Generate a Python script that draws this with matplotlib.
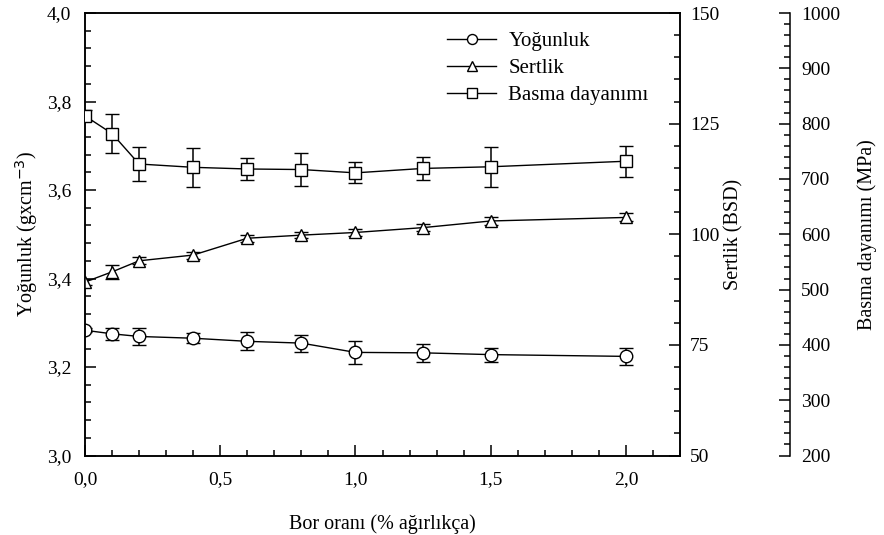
import numpy as np
import matplotlib
matplotlib.use("Agg")
import matplotlib.pyplot as plt
from matplotlib.ticker import MultipleLocator, FuncFormatter

plt.rcParams['font.family'] = ['Liberation Serif', 'DejaVu Serif']
plt.rcParams['font.size'] = 11

# bor orani (% agirlikca)
bor = [0.0, 0.1, 0.2, 0.4, 0.6, 0.8, 1.0, 1.25, 1.5, 2.0]

yogunluk = [3.283, 3.275, 3.269, 3.265, 3.258, 3.254, 3.233, 3.232, 3.228, 3.224]
yogunluk_err = [0.005, 0.014, 0.019, 0.011, 0.020, 0.019, 0.026, 0.021, 0.016, 0.019]

sertlik = [89.2, 91.5, 94.0, 95.3, 99.1, 99.8, 100.4, 101.5, 103.0, 103.8]
sertlik_err = [0.6, 1.6, 0.8, 0.8, 0.8, 0.7, 0.8, 0.8, 0.8, 0.9]

basma = [814, 782, 727, 721, 718, 717, 711, 719, 722, 732]
basma_err = [10, 35, 30, 35, 20, 29, 19, 21, 36, 28]

comma = FuncFormatter(lambda v, p: ('%.1f' % v).replace('.', ','))
intfmt = FuncFormatter(lambda v, p: '%d' % v)

fig = plt.figure(figsize=(8.84, 5.35), dpi=100)
ax = fig.add_axes([85/884, 1-455.5/535, 595/884, 442.5/535])
ax2 = ax.twinx()
ax3 = ax.twinx()

style = dict(color='black', lw=1.0, mfc='white', mec='black', ms=9, mew=1.0,
             capsize=5, elinewidth=1.1, capthick=1.1, ecolor='black')

l1 = ax.errorbar(bor, yogunluk, yerr=yogunluk_err, marker='o', **style)
l2 = ax2.errorbar(bor, sertlik, yerr=sertlik_err, marker='^', **style)
l3 = ax3.errorbar(bor, basma, yerr=basma_err, marker='s', **style)

ax.set_xlim(0, 2.2)
ax.set_ylim(3.0, 4.0)
ax2.set_ylim(50, 150)
ax3.set_ylim(200, 1000)

ax.xaxis.set_major_locator(MultipleLocator(0.5))
ax.xaxis.set_minor_locator(MultipleLocator(0.1))
ax.xaxis.set_major_formatter(comma)
ax.yaxis.set_major_locator(MultipleLocator(0.2))
ax.yaxis.set_minor_locator(MultipleLocator(0.04))
ax.yaxis.set_major_formatter(comma)

ax2.yaxis.set_major_locator(MultipleLocator(25))
ax2.yaxis.set_minor_locator(MultipleLocator(5))
ax2.yaxis.set_major_formatter(intfmt)

ax3.yaxis.set_major_locator(MultipleLocator(100))
ax3.yaxis.set_minor_locator(MultipleLocator(20))
ax3.yaxis.set_major_formatter(intfmt)

for a in (ax, ax2, ax3):
    a.tick_params(which='both', direction='in', top=False, labelsize=14)
    a.tick_params(which='major', length=8, width=1.1)
    a.tick_params(which='minor', length=4, width=1.1)
    for s in a.spines.values():
        s.set_linewidth(1.1)

ax.tick_params(axis='x', pad=11)
ax.tick_params(axis='y', pad=10)
ax2.tick_params(axis='y', pad=7)
ax3.tick_params(axis='y', pad=8)

ax3.spines['right'].set_position(('axes', 1.185))
for side in ('left', 'top', 'bottom'):
    ax3.spines[side].set_visible(False)

ax.set_xlabel('Bor oranı (% ağırlıkça)', fontsize=14.5, labelpad=19)
ax.set_ylabel('Yoğunluk (gxcm$^{-3}$)', fontsize=14.5, labelpad=5)
ax2.set_ylabel('Sertlik (BSD)', fontsize=14.5, labelpad=4)
ax3.set_ylabel('Basma dayanımı (MPa)', fontsize=14.5, labelpad=12)

leg = ax.legend([l1[0], l2[0], l3[0]], ['Yoğunluk', 'Sertlik', 'Basma dayanımı'],
                loc='upper left', bbox_to_anchor=(0.588, 0.986), frameon=False,
                fontsize=15, handlelength=2.35, labelspacing=0.35, handletextpad=0.58,
                borderaxespad=0.2, markerscale=0.8)

fig.savefig('out.png', dpi=100)
